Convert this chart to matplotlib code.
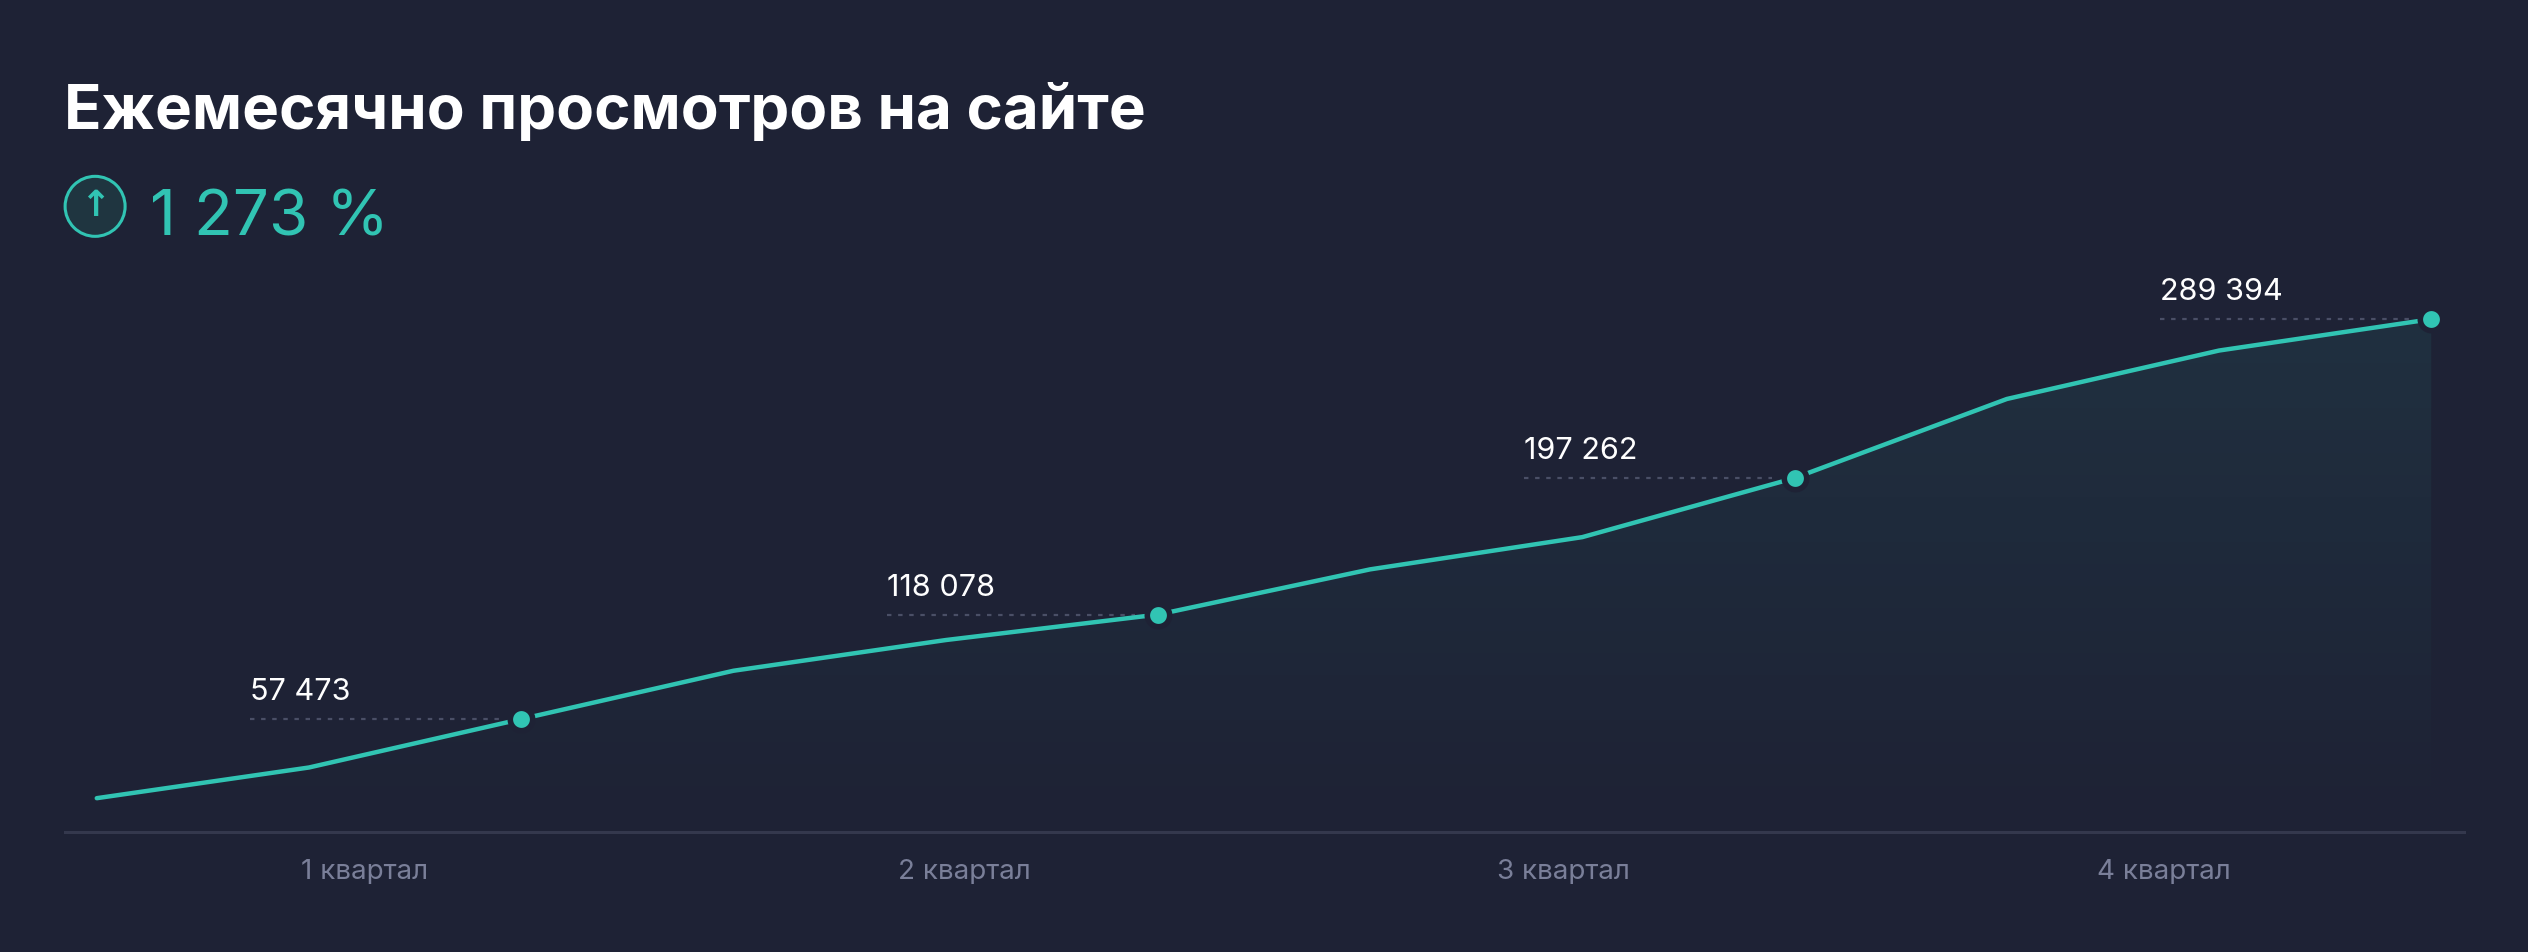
import matplotlib
matplotlib.use("Agg")
import matplotlib.pyplot as plt
import numpy as np
from matplotlib.patches import Circle, Polygon
from matplotlib.colors import LinearSegmentedColormap

months = list(range(12))
values = [11600, 29400, 57473, 85500, 103300, 118078, 144300, 163000, 197262, 243100, 271200, 289394]
label_idx = [2, 5, 8, 11]
label_texts = ["57 473", "118 078", "197 262", "289 394"]
quarters = ["1 квартал", "2 квартал", "3 квартал", "4 квартал"]
title = "Ежемесячно просмотров на сайте"
growth = "1 273 %"

BG = "#1e2235"
TEAL = "#31c4b3"
FONT = ["Inter", "DejaVu Sans"]

W, H = 2528, 952
fig = plt.figure(figsize=(W/100, H/100), dpi=100, facecolor=BG)
ax = fig.add_axes([64.5/W, 120/H, (2463.5-64.5)/W, (678-120)/H])
ax.set_facecolor(BG)
sp = 131.6
ppu = 0.001069
ax.set_ylim(57473 - 70/ppu, 289394 + 28/ppu)
for s in ax.spines.values():
    s.set_visible(False)
ax.set_xticks([]); ax.set_yticks([])
y0 = ax.get_ylim()[0]
ax.axhline(y0, color="#34384d", lw=2.2, clip_on=False)

grad = np.linspace(0, 1, 256).reshape(-1, 1)
cmap = LinearSegmentedColormap.from_list("g", [(0.19, 0.77, 0.70, 0.0), (0.19, 0.77, 0.70, 0.09)])
im = ax.imshow(grad, extent=[months[0], months[-1], y0, max(values)], origin="lower",
               aspect="auto", cmap=cmap, zorder=1)
poly = Polygon(list(zip(months, values)) + [(months[-1], y0), (months[0], y0)],
               closed=True, facecolor="none", edgecolor="none")
ax.add_patch(poly)
im.set_clip_path(poly)
ax.set_xlim(-20/sp, 11 + 20/sp)
ax.set_ylim(57473 - 70/ppu, 289394 + 28/ppu)

ax.plot(months, values, color=TEAL, lw=3.2, zorder=3, solid_capstyle="round")
ax.scatter([months[i] for i in label_idx], [values[i] for i in label_idx], s=260,
           color=TEAL, edgecolor=BG, linewidth=4, zorder=4)
for i, t in zip(label_idx, label_texts):
    x0 = months[i] - 168/sp
    ax.plot([x0, months[i] - 14/sp], [values[i], values[i]], color="#4a4f66", lw=1.6,
            ls=(0, (2, 3)), zorder=2)
    ax.text(x0, values[i] + 13/ppu/1.612, t, color="white", fontsize=22, family=FONT,
            ha="left", va="bottom", zorder=5)

for k, q in enumerate(quarters):
    ax.text((k + 0.5)/4, -(25*1.612)/(678-120), q, transform=ax.transAxes, ha="center",
            va="center", color="#7a7f99", fontsize=20, family=FONT)

fig.text(64/W, 1 - 129/H, title, color="white", fontsize=44.5, fontweight="bold",
         family=FONT, ha="left", va="baseline")
cx, cy = 59*1.612, H - 128*1.612
c = Circle((cx/100, cy/100), 0.30, transform=fig.dpi_scale_trans, facecolor="#1f3540",
           edgecolor=TEAL, lw=2.2)
fig.patches.append(c)
fig.text(cx/W, cy/H, "↑", color=TEAL, fontsize=26, fontweight="bold",
         family=["DejaVu Sans"], ha="center", va="center")
fig.text(150/W, 1 - 236/H, growth, color=TEAL, fontsize=46, fontweight="normal",
         family=FONT, ha="left", va="baseline")

fig.savefig("out.png", dpi=100, facecolor=BG)
